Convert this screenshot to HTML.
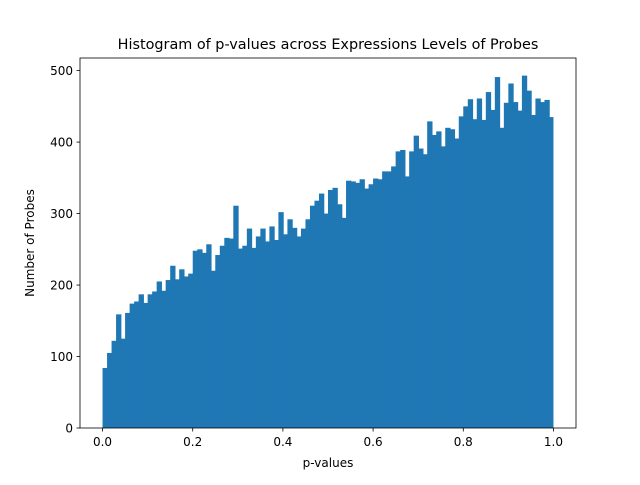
<!DOCTYPE html>
<html><head><meta charset="utf-8"><style>
body{margin:0;background:#fff;font-family:"Liberation Sans","DejaVu Sans",sans-serif}
svg text{font-family:"DejaVu Sans","Liberation Sans",sans-serif;fill:#000}
</style></head><body>
<svg id="chart" width="640" height="480">
<text x="328" y="49" text-anchor="middle" font-size="14.4">Histogram of p-values across Expressions Levels of Probes</text>
<g id="bars"></g>
<rect x="80" y="58" width="496" height="370" fill="none" stroke="#000" stroke-width="0.8"/>
<g id="xt"></g>
<g id="yt"></g>
<text x="328" y="467" text-anchor="middle" font-size="12">p-values</text>
<text transform="translate(34,243) rotate(-90)" text-anchor="middle" font-size="12">Number of Probes</text>
</svg>
<script>
const counts=[84,105,122,159,125,161,174,177,187,175,
187,191,205,192,207,227,208,222,212,216,
248,250,245,257,220,242,255,266,265,311,
251,255,279,252,268,279,261,282,263,302,
271,292,280,268,279,292,311,318,328,300,
333,336,313,294,346,345,343,348,335,341,
349,348,359,359,366,387,389,352,387,409,
391,383,429,410,415,394,420,418,405,436,
450,460,432,461,431,470,445,491,420,455,
482,456,444,493,472,438,461,456,459,435];
const xTicks=[0,0.2,0.4,0.6,0.8,1.0];
const xTickLabels=["0.0","0.2","0.4","0.6","0.8","1.0"];
const yTicks=[0,100,200,300,400,500];
const binStart=0, binEnd=1;
const NS="http://www.w3.org/2000/svg";
const xmin=binStart-0.05*(binEnd-binStart), xmax=binEnd+0.05*(binEnd-binStart);
const ymax=Math.max(...counts)*1.05;
const X=v=>80+(v-xmin)/(xmax-xmin)*496;
const Y=v=>428-v/ymax*370;
const bars=document.getElementById('bars');
const w=(binEnd-binStart)/counts.length;
counts.forEach((c,i)=>{
 const r=document.createElementNS(NS,'rect');
 const x0=X(binStart+i*w), x1=X(binStart+(i+1)*w);
 r.setAttribute('x',x0);r.setAttribute('width',(i===counts.length-1)?(x1-x0):(x1-x0+0.8));
 r.setAttribute('y',Y(c));r.setAttribute('height',Y(0)-Y(c));
 r.setAttribute('fill','#1f77b4');
 
 
 bars.appendChild(r);
});
const xt=document.getElementById('xt');
xTicks.forEach((t,i)=>{
 const l=document.createElementNS(NS,'line');
 l.setAttribute('x1',X(t));l.setAttribute('x2',X(t));l.setAttribute('y1',428);l.setAttribute('y2',431.5);
 l.setAttribute('stroke','#000');l.setAttribute('stroke-width','0.8');
 
 
 xt.appendChild(l);
 const s=document.createElementNS(NS,'text');
 s.setAttribute('x',X(t));s.setAttribute('y',446);s.setAttribute('text-anchor','middle');s.setAttribute('font-size','12');
 s.textContent=xTickLabels[i];
 
 
 xt.appendChild(s);
});
const yt=document.getElementById('yt');
yTicks.forEach(t=>{
 const l=document.createElementNS(NS,'line');
 l.setAttribute('x1',76.5);l.setAttribute('x2',80);l.setAttribute('y1',Y(t));l.setAttribute('y2',Y(t));
 l.setAttribute('stroke','#000');l.setAttribute('stroke-width','0.8');
 
 
 yt.appendChild(l);
 const s=document.createElementNS(NS,'text');
 s.setAttribute('x',73);s.setAttribute('y',Y(t)+4.5);s.setAttribute('text-anchor','end');s.setAttribute('font-size','12');
 s.textContent=t;
 
 
 yt.appendChild(s);
});
</script>
</body></html>
